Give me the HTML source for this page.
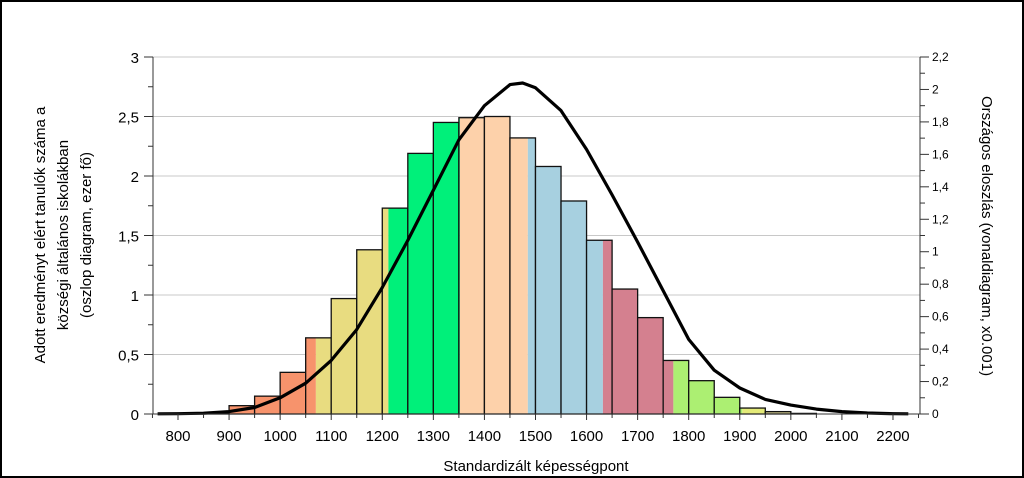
<!DOCTYPE html>
<html><head><meta charset="utf-8"><style>
html,body{margin:0;padding:0;background:#fff;}
svg{display:block;font-family:"Liberation Sans",sans-serif;}
</style></head><body>
<svg id="chart" width="1024" height="478">
<rect x="1" y="1" width="1022" height="476" fill="#fff" stroke="#000" stroke-width="2"/>
<g id="grid"></g>
<g id="bars"></g>
<g id="line"></g>
<g id="axes"></g>
<text x="0" y="0" transform="translate(50,235) rotate(-90)" text-anchor="middle" font-size="15"><tspan x="0" dy="-5">Adott eredményt elért tanulók száma a</tspan><tspan x="0" dy="23">községi általános iskolákban</tspan><tspan x="0" dy="23">(oszlop diagram, ezer fő)</tspan></text>
<text transform="translate(982,236) rotate(90)" text-anchor="middle" font-size="15">Országos eloszlás (vonaldiagram, x0.001)</text>
<text x="536" y="471" text-anchor="middle" font-size="15">Standardizált képességpont</text>
</svg>
<script>
// bar data: start score (width 50), value (thousand), colour segments [fromScore, colour]
const binStarts = [800,850,900,950,1000,1050,1100,1150,1200,1250,1300,1350,1400,1450,1500,1550,1600,1650,1700,1750,1800,1850,1900,1950,2000];
const binValues = [0.004,0.008,0.07,0.15,0.35,0.64,0.97,1.38,1.73,2.19,2.45,2.49,2.50,2.32,2.08,1.79,1.46,1.05,0.81,0.45,0.28,0.14,0.05,0.02,0.005];
const colorBreaks = [750,1070,1212,1352,1485,1632,1770,1905,1950,2000];
const colorFills = ["#f7936c","#e8dc80","#00f07a","#fdd1aa","#a7d0e0","#d4808f","#acef72","#e4ea78","#c9c38a","#c9c38a"];
// national distribution (right axis)
const lineScores = [760,800,850,900,950,1000,1050,1100,1150,1200,1250,1300,1350,1400,1450,1475,1500,1550,1600,1650,1700,1750,1800,1850,1900,1950,2000,2050,2100,2150,2200,2230];
const lineValues = [0.001,0.002,0.005,0.015,0.04,0.10,0.19,0.33,0.52,0.78,1.07,1.38,1.69,1.90,2.03,2.04,2.01,1.87,1.63,1.35,1.06,0.76,0.46,0.27,0.16,0.09,0.055,0.03,0.015,0.006,0.002,0.001];
const leftTicks = ["0","0,5","1","1,5","2","2,5","3"];
const rightTicks = ["0","0,2","0,4","0,6","0,8","1","1,2","1,4","1,6","1,8","2","2,2"];
const xTicks = [800,900,1000,1100,1200,1300,1400,1500,1600,1700,1800,1900,2000,2100,2200];

const NS="http://www.w3.org/2000/svg";
const X0=153,X1=920,Y0=414,YT=57;
const xs=v=>178+(v-800)*0.5107;
const yl=v=>Y0-(v/3)*(Y0-YT);
const yr=v=>Y0-(v/2.2)*(Y0-YT);
function mk(tag,attrs,parent){const e=document.createElementNS(NS,tag);for(const k in attrs)e.setAttribute(k,attrs[k]);parent.appendChild(e);return e;}
const G=document.getElementById('grid'),B=document.getElementById('bars'),L=document.getElementById('line'),A=document.getElementById('axes');

for(let i=1;i<leftTicks.length;i++){
  const g=mk('line',{x1:X0,x2:X1,y1:yl(i*0.5),y2:yl(i*0.5),stroke:'#c8c8c8','stroke-width':1},G);
  
  
}
binStarts.forEach((s,i)=>{
  const e=s+50,v=binValues[i];
  const top=yl(v);
  for(let k=0;k<colorBreaks.length;k++){
    const a=Math.max(s,colorBreaks[k]),b=Math.min(e,k+1<colorBreaks.length?colorBreaks[k+1]:9999);
    if(b>a){
      const r=mk('rect',{x:xs(a),y:top,width:xs(b)-xs(a),height:Y0-top,fill:colorFills[k]},B);
      
      
    }
  }
  const o=mk('rect',{x:xs(s),y:top,width:xs(e)-xs(s),height:Y0-top,fill:'none',stroke:'#111','stroke-width':1.3},B);
  
  
});
const pts=lineScores.map((s,i)=>xs(s).toFixed(1)+','+yr(lineValues[i]).toFixed(1)).join(' ');
const pl=mk('polyline',{points:pts,fill:'none',stroke:'#000','stroke-width':3.2,'stroke-linejoin':'round'},L);



mk('line',{x1:X0,x2:X0,y1:YT,y2:Y0,stroke:'#333'},A);
mk('line',{x1:X1,x2:X1,y1:YT,y2:Y0,stroke:'#333'},A);
mk('line',{x1:X0,x2:X1,y1:Y0,y2:Y0,stroke:'#333'},A);
for(let i=0;i<=12;i++){const y=yl(i*0.25);mk('line',{x1:i%2?148:144,x2:X0,y1:y,y2:y,stroke:'#333'},A);}
leftTicks.forEach((t,i)=>{
  const tx=mk('text',{x:139,y:yl(i*0.5)+6,'text-anchor':'end','font-size':15},A);tx.textContent=t;
  
  
});
for(let i=0;i<=22;i++){const y=yr(i*0.1);mk('line',{x1:X1,x2:i%2?925:929,y1:y,y2:y,stroke:'#333'},A);}
rightTicks.forEach((t,i)=>{
  const tx=mk('text',{x:932,y:yr(i*0.2)+4,'font-size':12},A);tx.textContent=t;
  
  
});
for(let v=750;v<=2250;v+=50){const x=xs(v);mk('line',{x1:x,x2:x,y1:Y0,y2:Y0+(v%100?4:6),stroke:'#333'},A);}
xTicks.forEach(v=>{
  const tx=mk('text',{x:xs(v),y:441,'text-anchor':'middle','font-size':15},A);tx.textContent=v;
  
  
});
</script>
</body></html>
